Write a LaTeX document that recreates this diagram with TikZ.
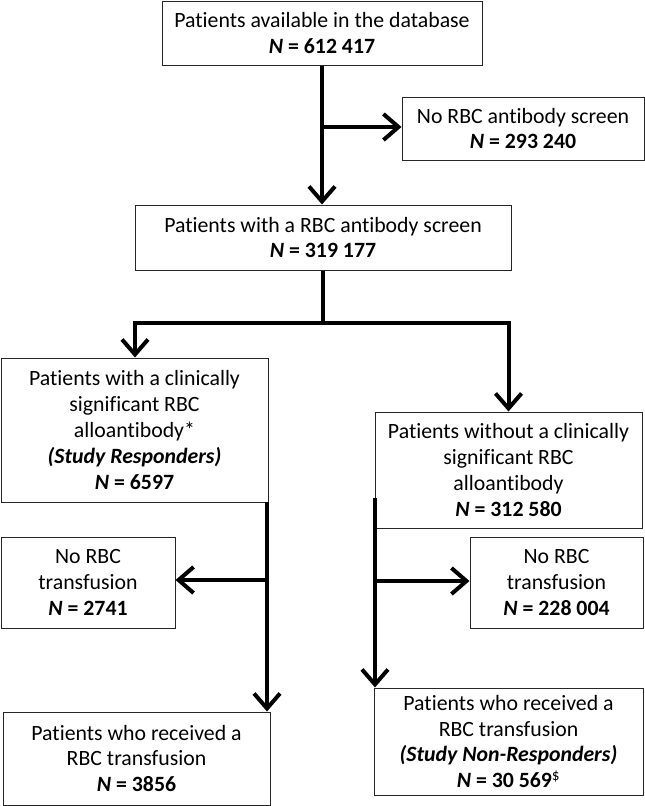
\documentclass[tikz,border=0pt]{standalone}
\usepackage{fontspec}
\setmainfont{Carlito}[Ligatures=NoCommon]
\usetikzlibrary{arrows.meta}
\newcommand{\NN}[1]{\textbf{\textit{N}} \textbf{= #1}}
\begin{document}
\begin{tikzpicture}[x=1pt,y=-1pt,
  box/.style={draw=black!85,line width=1pt,inner sep=0pt,align=center,
    font=\fontsize{21.8}{25.8}\selectfont},
  flow/.style={line width=4pt,black},
  arr/.style={flow,-{Straight Barb[length=15pt,width=26pt,line width=4pt]}}]
\useasboundingbox (0,0) rectangle (645,806);
\node[box,minimum width=320,minimum height=64] (b1) at (322,33)
  {Patients available in the database\\ \NN{612 417}};
\node[box,minimum width=242,minimum height=63] (b3) at (523,128.5)
  {No RBC antibody screen\\ \NN{293 240}};
\node[box,minimum width=376,minimum height=65] (b2) at (323,237.5)
  {Patients with a RBC antibody screen\\ \NN{319 177}};
\node[box,minimum width=267,minimum height=144] (b4) at (134.5,430)
  {Patients with a clinically\\ significant RBC\\ alloantibody*\\ \textbf{\textit{(Study Responders)}}\\ \NN{6597}};
\node[box,minimum width=267,minimum height=116] (b5) at (508.5,470)
  {Patients without a clinically\\ significant RBC\\ alloantibody\\ \NN{312 580}};
\node[box,minimum width=174,minimum height=91] (b7) at (88,582.5)
  {No RBC\\ transfusion\\ \NN{2741}};
\node[box,minimum width=173,minimum height=91] (b9) at (556.5,582.5)
  {No RBC\\ transfusion\\ \NN{228 004}};
\node[box,minimum width=267,minimum height=93] (b6) at (136.5,758.5)
  {Patients who received a\\ RBC transfusion\\ \NN{3856}};
\node[box,minimum width=269,minimum height=107] (b8) at (508.5,741.5)
  {Patients who received a\\ RBC transfusion\\ \textbf{\textit{(Study Non-Responders)}}\\ \NN{30 569}\textsuperscript{\$}};
% connectors
\coordinate (j1) at (322,127);
\coordinate (t2) at (323,323);
\coordinate (bl) at (135,323);
\coordinate (br) at (508.5,323);
\coordinate (l0) at (267,502);
\coordinate (l1) at (267,580);
\coordinate (r0) at (375,498);
\coordinate (r1) at (375,581);
\draw[arr] (b1.south) -- (b1.south |- b2.north);
\draw[arr] (j1) -- (j1 -| b3.west);
\draw[flow] (b2.south -| t2) -- (t2);
\draw[flow,line cap=rect] (bl) -- (br);
\draw[arr] (bl) -- (bl |- b4.north);
\draw[arr] (br) -- (br |- b5.north);
\draw[arr] (l0) -- (l0 |- b6.north);
\draw[arr] (l1) -- (l1 -| b7.east);
\draw[arr] (r0) -- (r0 |- b8.north);
\draw[arr] (r1) -- (r1 -| b9.west);
\end{tikzpicture}
\end{document}
